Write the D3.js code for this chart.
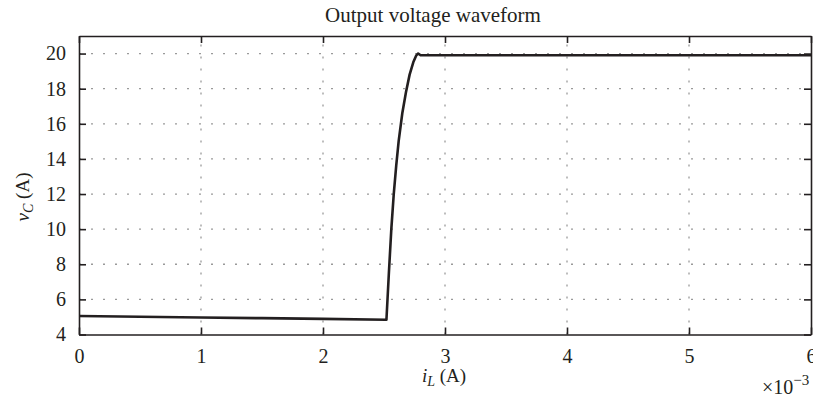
<!DOCTYPE html>
<html>
<head>
<meta charset="utf-8">
<script src="https://cdn.jsdelivr.net/npm/d3@7/dist/d3.min.js"></script>
<style>
  html, body { margin: 0; padding: 0; background: #fff; }
  svg { display: block; }
  svg text { font-family: "Liberation Serif", "DejaVu Serif", serif !important; fill: #231f20; }
</style>
</head>
<body>
<svg id="chart" width="813" height="400"></svg>
<script>
// Inductor current (units of 1e-3 A) and capacitor voltage samples
const currentMilliA = [0, 0.5, 1, 1.5, 2, 2.52, 2.54, 2.56, 2.58, 2.60, 2.62, 2.65, 2.68, 2.71, 2.74, 2.765, 2.78, 2.80, 6.0];
const voltage       = [5.05, 5.01, 4.97, 4.93, 4.89, 4.84, 7.5, 10.0, 12.0, 13.6, 15.0, 16.6, 17.8, 18.8, 19.5, 19.9, 20.0, 19.9, 19.9];

const xTicks = [0, 1, 2, 3, 4, 5, 6];
const yTicks = [4, 6, 8, 10, 12, 14, 16, 18, 20];

const ink = "#231f20";
const serif = '"Liberation Serif", "DejaVu Serif", serif';
const svg = d3.select("#chart");
const plotLeft = 79, plotRight = 811, plotTop = 36, plotBottom = 334.5;

const x = d3.scaleLinear().domain([0, 6]).range([plotLeft, plotRight]);
const y = d3.scaleLinear().domain([4, 21]).range([plotBottom, plotTop]);

// dotted grid
const grid = svg.append("g")
  .attr("stroke", "#9a9a9a").attr("stroke-width", 1.3)
  .attr("stroke-dasharray", "2,10");
grid.selectAll("line.v").data(xTicks.slice(1, -1)).join("line")
  .attr("x1", d => x(d)).attr("x2", d => x(d))
  .attr("y1", plotBottom).attr("y2", plotTop);
grid.selectAll("line.h").data(yTicks.slice(1)).join("line")
  .attr("x1", plotLeft).attr("x2", plotRight)
  .attr("y1", d => y(d)).attr("y2", d => y(d));

// waveform
const line = d3.line().x(d => x(d[0])).y(d => y(d[1]));
svg.append("path")
  .datum(currentMilliA.map((c, i) => [c, voltage[i]]))
  .attr("d", line)
  .attr("fill", "none").attr("stroke", ink)
  .attr("stroke-width", 2.6).attr("stroke-linejoin", "round");

// axes with inward ticks on all four sides
const tickFmt = d3.format("d");
function styleAxis(g) {
  g.attr("font-family", serif).attr("font-size", 20);
  g.selectAll("path.domain").attr("stroke", ink).attr("stroke-width", 1.6);
  g.selectAll(".tick line").attr("stroke", ink).attr("stroke-width", 1.6);
  g.selectAll(".tick text").style("font-family", serif).style("font-size", "20px").attr("fill", ink);
}
svg.append("g").attr("transform", `translate(0,${plotBottom})`)
  .call(d3.axisBottom(x).tickValues(xTicks).tickFormat(tickFmt).tickSizeInner(-7).tickSizeOuter(0).tickPadding(14))
  .call(styleAxis);
svg.append("g").attr("transform", `translate(0,${plotTop})`)
  .call(d3.axisTop(x).tickValues(xTicks).tickFormat("").tickSizeInner(-7).tickSizeOuter(0))
  .call(styleAxis);
svg.append("g").attr("transform", `translate(${plotLeft},0)`)
  .call(d3.axisLeft(y).tickValues(yTicks).tickFormat(tickFmt).tickSizeInner(-7).tickSizeOuter(0).tickPadding(13))
  .call(styleAxis);
svg.append("g").attr("transform", `translate(${plotRight},0)`)
  .call(d3.axisRight(y).tickValues(yTicks).tickFormat("").tickSizeInner(-7).tickSizeOuter(0))
  .call(styleAxis);

// titles
svg.append("text").attr("x", 433).attr("y", 22).attr("text-anchor", "middle")
  .style("font-size", "21px").text("Output voltage waveform");

const xl = svg.append("text").attr("x", 444).attr("y", 382).attr("text-anchor", "middle").style("font-size", "19px");
xl.append("tspan").attr("font-style", "italic").text("i");
xl.append("tspan").attr("font-style", "italic").style("font-size", "14px").attr("dy", 4).text("L");
xl.append("tspan").attr("dy", -4).text(" (A)");

const yl = svg.append("text").attr("transform", "translate(29,197) rotate(-90)")
  .attr("text-anchor", "middle").style("font-size", "19px");
yl.append("tspan").attr("font-style", "italic").text("v");
yl.append("tspan").attr("font-style", "italic").style("font-size", "14px").attr("dy", 4).text("C");
yl.append("tspan").attr("dy", -4).text(" (A)");

const ex = svg.append("text").attr("x", 762).attr("y", 394).style("font-size", "20px");
ex.append("tspan").text("×10");
ex.append("tspan").style("font-size", "15px").attr("dy", -9).text("−3");
</script>
</body>
</html>
